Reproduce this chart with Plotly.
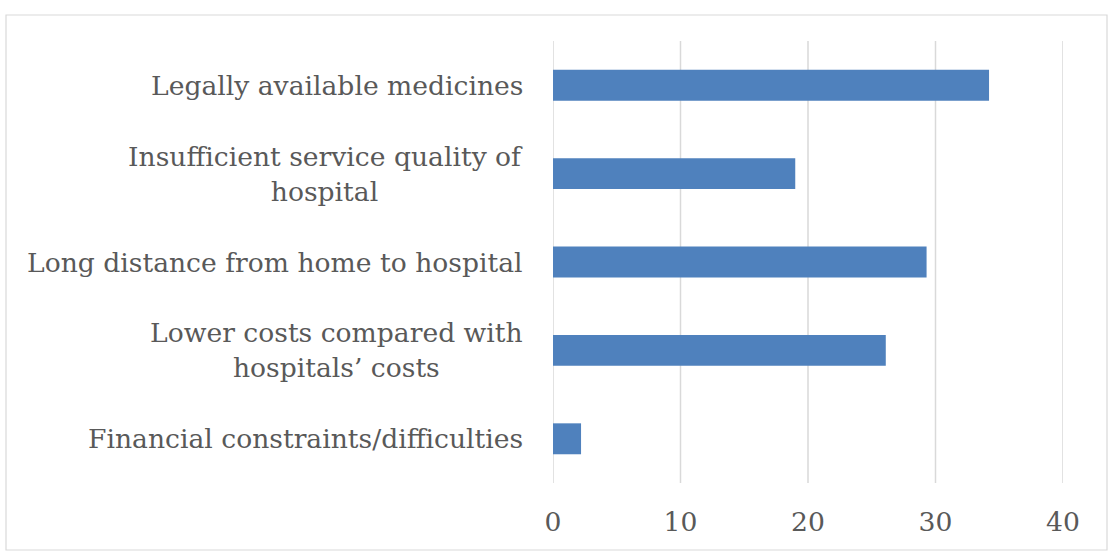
import plotly.graph_objects as go

categories = [
    "Legally available medicines",
    "Insufficient service quality of<br>hospital",
    "Long distance from home to hospital",
    "Lower costs compared with<br>hospitals’ costs",
    "Financial constraints/difficulties",
]
values = [34.2, 19.0, 29.3, 26.1, 2.2]
x_ticks = [0, 10, 20, 30, 40]

FONT = "DejaVu Serif"
TXT = "#595959"

W, H = 1110, 555
L, R, T, B = 553, 47, 41, 72
pw, ph = W - L - R, H - T - B

fig = go.Figure()

for t in x_ticks:
    fig.add_shape(type="line", xref="x", yref="paper", x0=t, x1=t, y0=0, y1=1,
                  line=dict(color="#d9d9d9", width=1.5), layer="below")

fig.add_trace(go.Bar(
    y=categories, x=values, orientation="h",
    marker=dict(color="#4f81bd", line=dict(width=0)),
    width=0.35,
))

for c in categories:
    fig.add_annotation(
        x=(525 - L) / pw, xref="paper", y=c, yref="y",
        text=c, showarrow=False, xanchor="right", align="center",
        font=dict(family=FONT, size=26.6, color=TXT),
    )

fig.add_shape(type="rect", xref="paper", yref="paper",
              x0=(6 - L) / pw, x1=(1107 - L) / pw,
              y0=(T + ph - 550) / ph, y1=(T + ph - 15) / ph,
              line=dict(color="#d9d9d9", width=1.2), fillcolor="rgba(0,0,0,0)", layer="below")

fig.update_layout(
    width=W, height=H,
    margin=dict(l=L, r=R, t=T, b=B),
    paper_bgcolor="white", plot_bgcolor="white",
    showlegend=False,
    xaxis=dict(range=[0, 40], tickvals=x_ticks, showgrid=False,
               zeroline=False, showline=False,
               ticks="outside", ticklen=15, tickcolor="rgba(0,0,0,0)",
               tickfont=dict(family=FONT, size=26.6, color=TXT)),
    yaxis=dict(autorange="reversed", showticklabels=False, showgrid=False,
               zeroline=False, showline=False),
)

fig.write_html("out.html")
